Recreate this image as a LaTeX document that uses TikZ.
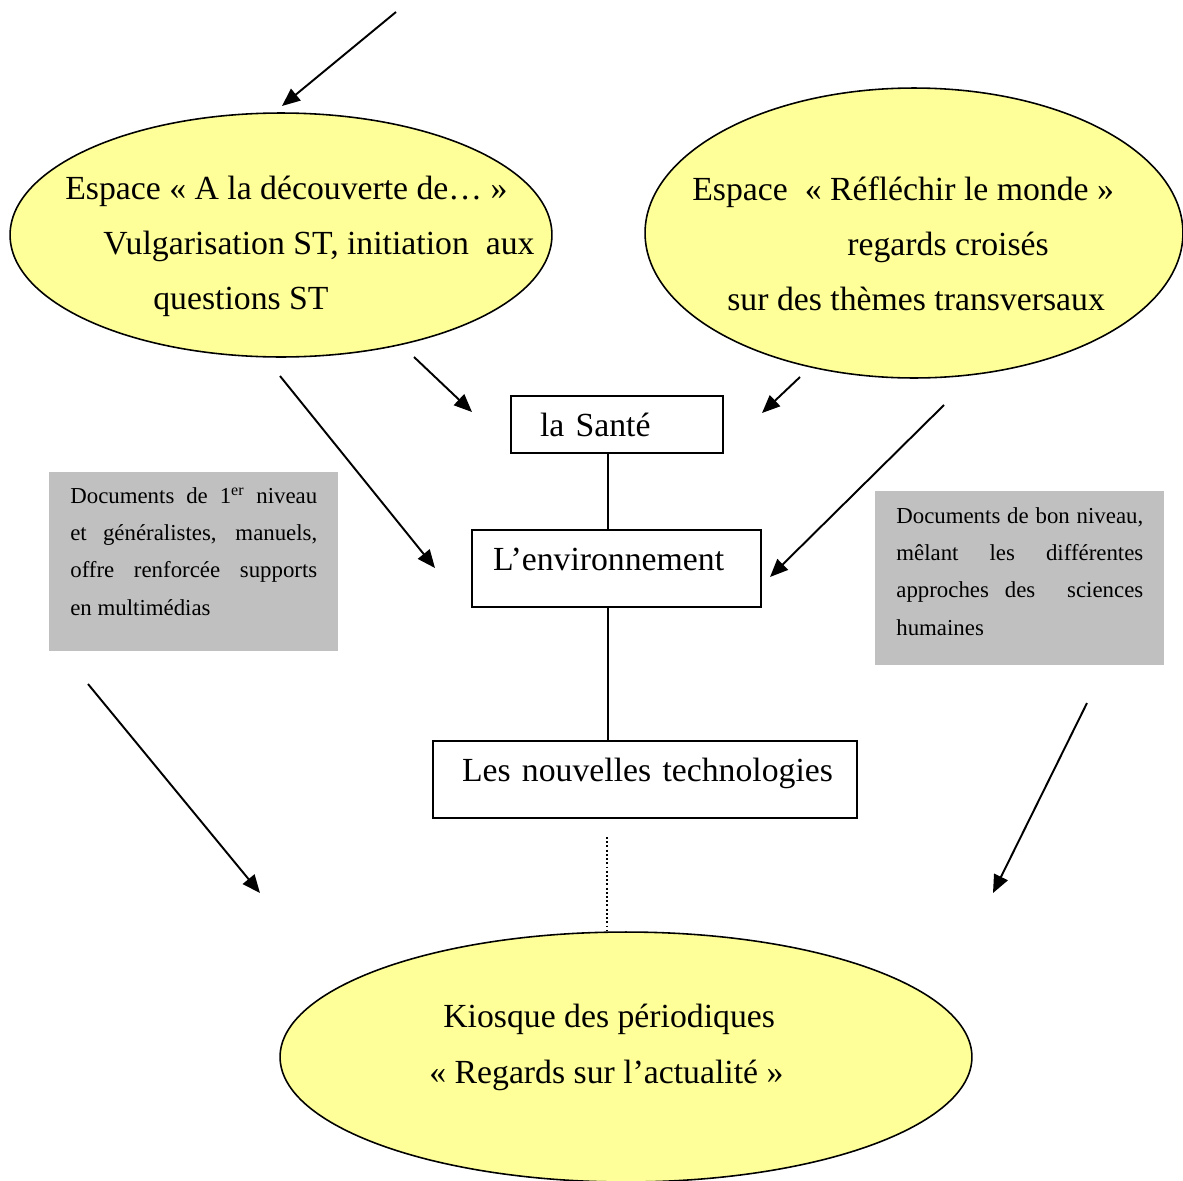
\documentclass[tikz,border=0pt]{standalone}
\usepackage{fontspec}
\setmainfont{Liberation Serif}
\usetikzlibrary{shapes.geometric, arrows.meta}

\definecolor{jaune}{RGB}{255,255,153}
\definecolor{gris}{RGB}{192,192,192}

\newcommand\justifie{\tolerance=10000 \hyphenpenalty=10000 }

\tikzset{
	bulle/.style = {ellipse, draw, line width = 0.9pt, fill = jaune, inner sep = 0pt},
	theme/.style = {rectangle, draw, line width = 1pt, inner sep = 0pt, align = left, text height = 0.8cm, font = \fontsize{19.2}{23}\selectfont},
	fonds/.style = {rectangle, fill = gris, anchor = north west, inner xsep = 0.42cm, inner ysep = 0pt, text width = 4.94cm, align = justify, font = \fontsize{13}{21.2}\selectfont},
	ligne/.style = {anchor = base west, inner sep = 0pt, font = \fontsize{19.2}{23}\selectfont},
	fleche/.style = {line width = 1.1pt, -{Triangle[length = 0.36cm, width = 0.3cm]}}
}

\begin{document}
\begin{tikzpicture}[x = 0.02cm, y = -0.02cm]
			\useasboundingbox (0,0) rectangle (1183,1180);
			\clip (0,0) rectangle (1183,1180);

			\node[bulle, minimum width = 10.84cm, minimum height = 4.88cm] (decouverte) at (281,235) {};
			\node[bulle, minimum width = 10.76cm, minimum height = 5.8cm] (monde) at (914,233) {};
			\node[bulle, minimum width = 13.84cm, minimum height = 5cm] (kiosque) at (626,1057) {};

			\node[ligne] (decouverte1) at (65,199) {Espace « A la découverte de… »};
			\node[ligne] (decouverte2) at (103,254) {Vulgarisation ST, initiation\ \ aux};
			\node[ligne] (decouverte3) at (153,309) {questions ST};

			\node[ligne] (monde1) at (692,200) {Espace\ \ « Réfléchir le monde »};
			\node[ligne] (monde2) at (847,255) {regards croisés};
			\node[ligne] (monde3) at (727,310) {sur des thèmes transversaux};

			\node[ligne] (kiosque1) at (443,1027) {Kiosque des périodiques};
			\node[ligne] (kiosque2) at (429,1083) {« Regards sur l’actualité »};

			\node[theme, text width = 4.24cm, text depth = 0.34cm] (sante) at (617,424.5) {\hspace*{0.58cm}la Santé};
			\node[theme, text width = 5.78cm, text depth = 0.74cm] (environnement) at (616.5,568.5) {\hspace*{0.42cm}L’environnement};
			\node[theme, text width = 8.48cm, text depth = 0.74cm] (technologies) at (645,779.5) {\hspace*{0.58cm}Les nouvelles technologies};

			\node[fonds] (premier) at (49,472) {\justifie\strut\vrule width 0pt height 0.62cm Documents de 1\textsuperscript{er} niveau\linebreak et généralistes, manuels,\linebreak offre renforcée supports\linebreak en multimédias\vrule width 0pt depth 0.72cm\relax};
			\node[fonds] (bon) at (875,491) {\justifie\strut\vrule width 0pt height 0.64cm Documents de bon niveau,\linebreak mêlant les différentes\linebreak approches des\ \ sciences\linebreak humaines\vrule width 0pt depth 0.6cm\relax};

			\coordinate (axe) at (608,0);
			\coordinate (pointilles) at (607,837);
			\draw[line width = 1pt] (sante.south -| axe) -- (environnement.north -| axe);
			\draw[line width = 1pt] (environnement.south -| axe) -- (technologies.north -| axe);
			\draw[line width = 1.1pt, dash pattern = on 1.1pt off 1.3pt] (pointilles) -- (kiosque.north -| pointilles);

			\coordinate (haut-a) at (396,12);
			\coordinate (haut-b) at (282,106);
			\coordinate (sante-ga) at (414,357);
			\coordinate (sante-gb) at (472,412);
			\coordinate (sante-da) at (800,377);
			\coordinate (sante-db) at (762,413);
			\coordinate (env-ga) at (280,376);
			\coordinate (env-gb) at (435,568);
			\coordinate (env-da) at (944,405);
			\coordinate (env-db) at (770,577);
			\coordinate (kiosque-ga) at (88,684);
			\coordinate (kiosque-gb) at (260,893);
			\coordinate (kiosque-da) at (1087,703);
			\coordinate (kiosque-db) at (993,893);

			\draw[fleche] (haut-a) -- (haut-b);
			\draw[fleche] (sante-ga) -- (sante-gb);
			\draw[fleche] (sante-da) -- (sante-db);
			\draw[fleche] (env-ga) -- (env-gb);
			\draw[fleche] (env-da) -- (env-db);
			\draw[fleche] (kiosque-ga) -- (kiosque-gb);
			\draw[fleche] (kiosque-da) -- (kiosque-db);
		\end{tikzpicture}
\end{document}
